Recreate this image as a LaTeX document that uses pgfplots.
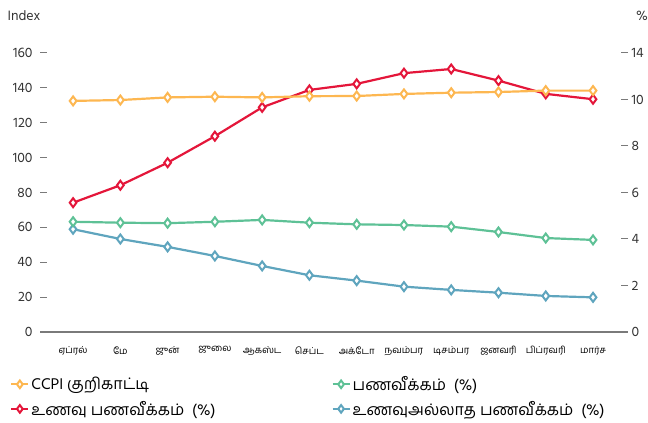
\documentclass[border=0pt]{standalone}
\usepackage{pgfplots}
\pgfplotsset{compat=1.18}
\usepackage{fontspec}
\setmainfont{Hind Madurai}
\newfontfamily\tamil[Script=Tamil]{Hind Madurai}
\definecolor{corange}{HTML}{FDB751}
\definecolor{cred}{HTML}{E4163A}
\definecolor{cgreen}{HTML}{5EC196}
\definecolor{cblue}{HTML}{5FA5BE}
\definecolor{ctick}{HTML}{7A7A7A}
\definecolor{ctext}{HTML}{333333}
\pgfplotsset{
  base/.style={
    scale only axis, width=588bp, height=296.5bp,
    xmin=-0.7, xmax=11.74,
    at={(40bp,91bp)}, anchor=south west,
    tick align=inside, major tick length=7bp,
    every tick/.style={ctick, line width=1bp},
    tick label style={font=\fontsize{14}{16}\selectfont, text=ctext},
    /pgf/number format/assume math mode=true,
  },
  ser/.style={color=#1, line width=2.2bp, mark=diamond*, mark size=4.5bp,
    mark options={fill=white, draw=#1, line width=2bp, solid}},
}
\begin{document}
\begin{tikzpicture}
\useasboundingbox (0,0) rectangle (648bp,423bp);
% right axis: percentages
\begin{axis}[base,
  axis y line*=right, axis x line=none,
  y axis line style={draw=none},
  ymin=0, ymax=12.75,
  ytick={0,2,4,6,8,10,12}, yticklabels={0,2,4,6,8,10,14},
  ylabel={\%},
  every axis y label/.style={at={(rel axis cs:1,1)}, anchor=center, xshift=14bp, yshift=20bp,
    font=\fontsize{14}{16}\selectfont, text=ctext},
]
\addplot[ser=cblue] coordinates {(0,4.42) (1,4.00) (2,3.66) (3,3.27) (4,2.84) (5,2.44) (6,2.21) (7,1.95) (8,1.81) (9,1.69) (10,1.55) (11,1.49)};
\addplot[ser=cgreen] coordinates {(0,4.74) (1,4.70) (2,4.68) (3,4.74) (4,4.82) (5,4.70) (6,4.63) (7,4.60) (8,4.53) (9,4.30) (10,4.04) (11,3.96)};
\addplot[ser=cred] coordinates {(0,5.56) (1,6.31) (2,7.28) (3,8.42) (4,9.66) (5,10.41) (6,10.67) (7,11.13) (8,11.31) (9,10.81) (10,10.24) (11,10.01)};
\end{axis}
% left axis: index
\begin{axis}[base,
  axis y line*=left, axis x line*=bottom,
  y axis line style={draw=none},
  x axis line style={draw=ctick, line width=2bp, -},
  ymin=0, ymax=170, ytick={0,20,...,160},
  yticklabel style={xshift=-4bp},
  xtick={0,...,11},
  xtick style={draw=none},
  xticklabels={ஏப்ரல், மே, ஜுன், ஜுலை, ஆகஸ்ட, செப்ட, அக்டோ, நவம்பர, டிசம்பர, ஜனவரி, பிப்ரவரி, மார்ச},
  xticklabel style={font=\tamil\fontsize{9.5}{11}\selectfont, text=black, yshift=-11bp},
  ylabel={Index},
  every axis y label/.style={at={(rel axis cs:0,1)}, anchor=center, xshift=-16bp, yshift=20bp,
    font=\fontsize{14}{16}\selectfont, text=ctext},
  legend columns=2,
  legend style={draw=none, fill=none, at={(rel axis cs:-0.056,-0.136)}, anchor=north west,
    font=\tamil\fontsize{16}{18}\selectfont, text=black, row sep=5bp,
    /tikz/every even column/.append style={column sep=114bp}},
  legend cell align=left,
  legend image code/.code={\draw[#1, mark repeat=2, mark phase=2, mark size=3.8bp] plot coordinates {(0bp,0bp) (8.5bp,0bp) (17bp,0bp)};},
]
\addplot[ser=corange] coordinates {(0,132.5) (1,133.0) (2,134.5) (3,134.9) (4,134.5) (5,135.2) (6,135.3) (7,136.5) (8,137.2) (9,137.6) (10,138.4) (11,138.4)};
\addlegendentry{CCPI குறிகாட்டி}
\addlegendimage{ser=cgreen}
\addlegendentry{பணவீக்கம்\ \ (\%)}
\addlegendimage{ser=cred}
\addlegendentry{உணவு பணவீக்கம்\ \ (\%)}
\addlegendimage{ser=cblue}
\addlegendentry{உணவுஅல்லாத பணவீக்கம்\ \ (\%)}
\end{axis}
\end{tikzpicture}
\end{document}
